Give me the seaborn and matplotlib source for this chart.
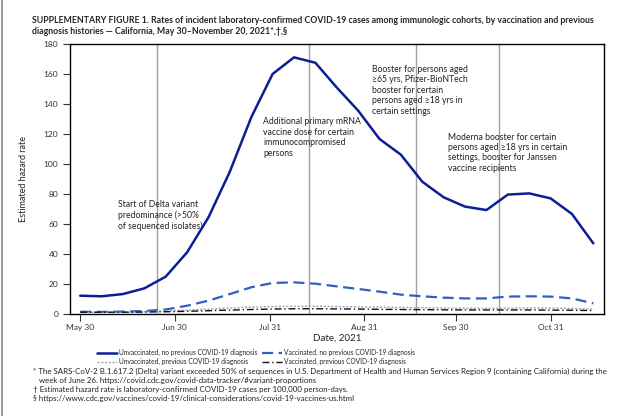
import matplotlib
matplotlib.use('Agg')
import matplotlib.pyplot as plt
import seaborn as sns
import pandas as pd
import numpy as np

# Weekly dates, May 30 - Nov 14, 2021
dates = pd.date_range('2021-05-30', periods=25, freq='7D')

# Estimated hazard rates (cases per 100,000 person-days)
unvax_no_prev = [12.2, 11.8, 13.3, 17.1, 24.9, 41.1, 64.4, 94.9, 131.1, 160.0, 171.1, 167.5,
                 151.0, 135.6, 116.7, 106.2, 88.2, 77.8, 71.6, 69.3, 79.6, 80.4, 77.1, 66.7, 47.1]
vax_no_prev = [1.5, 1.4, 1.6, 2.0, 3.0, 5.5, 8.9, 13.3, 17.8, 20.7, 21.1, 20.2,
               18.4, 16.7, 14.9, 12.9, 11.8, 10.9, 10.4, 10.4, 11.6, 11.8, 11.6, 10.4, 7.1]
unvax_prev = [1.0, 1.0, 1.2, 1.5, 2.0, 2.6, 3.3, 4.0, 4.6, 5.0, 5.2, 5.2,
              5.0, 4.8, 4.6, 4.4, 4.2, 4.0, 3.9, 3.8, 3.9, 4.0, 4.0, 3.7, 3.2]
vax_prev = [1.2, 1.2, 1.2, 1.3, 1.5, 1.8, 2.2, 2.6, 3.0, 3.3, 3.5, 3.5,
            3.4, 3.3, 3.1, 3.0, 2.9, 2.8, 2.7, 2.7, 2.7, 2.7, 2.6, 2.5, 2.3]

series_labels = ['Unvaccinated, no previous COVID-19 diagnosis',
                 'Vaccinated, no previous COVID-19 diagnosis',
                 'Unvaccinated, previous COVID-19 diagnosis',
                 'Vaccinated, previous COVID-19 diagnosis']

# Policy events (vertical reference lines) and their notes
event_dates = pd.to_datetime(['2021-06-24', '2021-08-13', '2021-09-17', '2021-10-14'])
event_notes = ['Start of Delta variant\npredominance (>50%\nof sequenced isolates)',
               'Additional primary mRNA\nvaccine dose for certain\nimmunocompromised\npersons',
               'Booster for persons aged\n\u226565 yrs, Pfizer-BioNTech\nbooster for certain\npersons aged \u226518 yrs in\ncertain settings',
               'Moderna booster for certain\npersons aged \u226518 yrs in certain\nsettings, booster for Janssen\nvaccine recipients']
note_dates = pd.to_datetime(['2021-06-11 12:00', '2021-07-29 00:00', '2021-09-02 12:00', '2021-09-27 12:00'])
note_tops = [76, 131, 166, 121]

tick_dates = pd.to_datetime(['2021-05-30', '2021-06-30', '2021-07-31', '2021-08-31', '2021-09-30', '2021-10-31'])
tick_labels = ['May 30', 'Jun 30', 'Jul 31', 'Aug 31', 'Sep 30', 'Oct 31']

df = pd.DataFrame({'Date': list(dates) * 4,
                   'Rate': unvax_no_prev + vax_no_prev + unvax_prev + vax_prev,
                   'Group': np.repeat(series_labels, len(dates))})

sns.set_style('white')
plt.rcParams['font.family'] = ['Lato', 'DejaVu Sans']

fig = plt.figure(figsize=(6.4, 4.16), dpi=100)
ax = fig.add_axes([70 / 640, 1 - 314 / 416, 534 / 640, 270 / 416])

for d in event_dates:
    ax.axvline(d, color='#a0a0a0', lw=1, zorder=1)

styles = {
    series_labels[0]: dict(color='#0b1f94', lw=1.8, ls='-'),
    series_labels[1]: dict(color='#2f5fc4', lw=1.6, ls=(0, (5, 2.5))),
    series_labels[2]: dict(color='#9aa3bd', lw=1.0, ls=(0, (1.5, 1.2))),
    series_labels[3]: dict(color='#111111', lw=1.0, ls=(0, (5, 2, 1, 2))),
}
for g in series_labels:
    sub = df[df['Group'] == g]
    sns.lineplot(data=sub, x='Date', y='Rate', ax=ax, label=g, zorder=3, **styles[g])
ax.get_legend().remove()
hl, ll = ax.get_legend_handles_labels()

for d, note, top in zip(note_dates, event_notes, note_tops):
    ax.text(d, top, note, fontsize=6.2, va='top', ha='left', color='#222222', linespacing=1.2)

ax.set_xlim(pd.Timestamp('2021-05-26 16:00'), pd.Timestamp('2021-11-17 12:00'))
ax.set_ylim(0, 180)
ax.set_yticks(range(0, 181, 20))
ax.set_xticks(tick_dates)
ax.set_xticklabels(tick_labels)
ax.tick_params(axis='both', direction='out', length=5, width=0.8, labelsize=6,
               colors='#333333', left=True, bottom=True)
ax.tick_params(axis='x', pad=2)
for s in ax.spines.values():
    s.set_color('black')
    s.set_linewidth(1.0)
ax.set_xlabel('Date, 2021', fontsize=7, color='#222222', labelpad=2)
ax.set_ylabel('Estimated hazard rate', fontsize=6.5, color='#222222', labelpad=11)

# legend: two columns, column-wise fill
order = [0, 2, 1, 3]
fig.legend([hl[i] for i in order], [ll[i] for i in order], ncol=2, loc='center',
           bbox_to_anchor=(256 / 640, 1 - 357 / 416), frameon=False, fontsize=4.8,
           handlelength=3.0, columnspacing=0.6, handletextpad=0.4, labelspacing=0.3)

fig.text(32 / 640, 1 - 16 / 416,
         'SUPPLEMENTARY FIGURE 1. Rates of incident laboratory-confirmed COVID-19 cases among immunologic cohorts, by vaccination and previous\n'
         'diagnosis histories \u2014 California, May 30\u2013November 20, 2021*,\u2020,\u00a7',
         fontsize=6.3, fontweight='bold', va='top', ha='left', linespacing=1.35)

foot = ('* The SARS-CoV-2 B.1.617.2 (Delta) variant exceeded 50% of sequences in U.S. Department of Health and Human Services Region 9 (containing California) during the\n'
        '   week of June 26. https://covid.cdc.gov/covid-data-tracker/#variant-proportions\n'
        '\u2020 Estimated hazard rate is laboratory-confirmed COVID-19 cases per 100,000 person-days.\n'
        '\u00a7 https://www.cdc.gov/vaccines/covid-19/clinical-considerations/covid-19-vaccines-us.html')
fig.text(33 / 640, 1 - 368 / 416, foot, fontsize=5.65, va='top', ha='left', linespacing=1.3, color='#222222')

# screenshot border on the left
fig.add_artist(plt.Line2D([2 / 640, 2 / 640], [0, 1], color='#888888', lw=1.2))

fig.savefig('out.png', dpi=100)
